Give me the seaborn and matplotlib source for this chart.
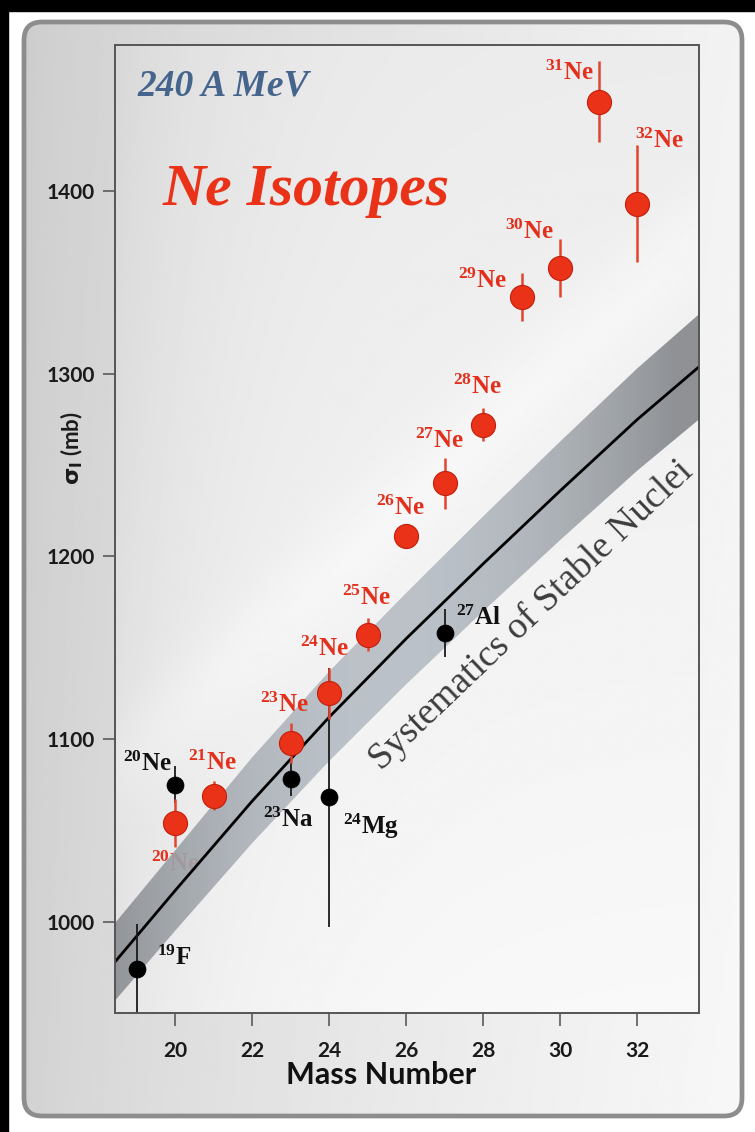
import numpy as np
import matplotlib
matplotlib.use("Agg")
import matplotlib.pyplot as plt
import seaborn as sns
from matplotlib.patches import FancyBboxPatch, Rectangle
from matplotlib.colors import to_rgb

# Interaction cross sections of Ne isotopes on carbon at 240 A MeV
ne_mass = [20, 21, 23, 24, 25, 26, 27, 28, 29, 30, 31, 32]
ne_sigma = [1054, 1069, 1098, 1125, 1157, 1211, 1240, 1272, 1342, 1358, 1449, 1393]
ne_err = [13, 8, 11, 14, 9, 5, 14, 9, 13, 16, 22, 32]

# Stable nuclei used for the reference systematics
stable_mass = [19, 20, 23, 24, 27]
stable_sigma = [974, 1075, 1078, 1068, 1158]
stable_err = [25, 10, 9, 71, 13]
stable_symbol = ["F", "Ne", "Na", "Mg", "Al"]

# Systematics of stable nuclei: central curve and its uncertainty band
sys_mass = [18, 20, 22, 24, 26, 28, 30, 32, 34]
sys_sigma = [967, 1017, 1066, 1112, 1155, 1196, 1236, 1275, 1311]
sys_upper = [988, 1039, 1090, 1137, 1180, 1222, 1263, 1303, 1340]
sys_lower = [946, 995, 1043, 1088, 1130, 1170, 1209, 1247, 1282]

x_ticks = [20, 22, 24, 26, 28, 30, 32]
y_ticks = [1000, 1100, 1200, 1300, 1400]

# label offsets (pixels) from each marker
ne_label_offset = [(0, -41), (-1.5, 33), (-6.5, 38), (-5, 45), (-1.5, 37), (-6, 28),
                   (-5.5, 42), (-6, 38), (-39.5, 16), (-31, 36), (-29.5, 29), (22, 63)]
stable_label_offset = [(37.5, 11), (-28, 21), (-2.5, -41), (42, -29), (33.5, 15)]

RED = "#ea3219"
RED_TXT = "#e3301d"
BLUE = "#45658d"

sns.set_theme(style="ticks")
plt.rcParams["font.family"] = ["Lato", "DejaVu Sans"]
plt.rcParams["mathtext.fontset"] = "custom"
plt.rcParams["mathtext.rm"] = "Liberation Serif:bold"
plt.rcParams["mathtext.it"] = "Liberation Serif:italic:bold"
plt.rcParams["mathtext.bf"] = "Liberation Serif:bold"
plt.rcParams["mathtext.sf"] = "DejaVu Sans:bold"

W, H = 755, 1132
fig = plt.figure(figsize=(W / 100, H / 100), dpi=100, facecolor="white")

# ---- framed panel behind the plot ----
bg = fig.add_axes([0, 0, 1, 1], zorder=-5)
bg.set_xlim(0, W)
bg.set_ylim(H, 0)
bg.axis("off")
bg.add_patch(Rectangle((0, 0), 8, H, color="black", zorder=0))
bg.add_patch(Rectangle((0, 0), W, 11, color="black", zorder=0))
panel = FancyBboxPatch((24, 22), 718, 1094, boxstyle="round,pad=0,rounding_size=18",
                       fc="none", ec="#8d8d8d", lw=3.4, zorder=3)
bg.add_patch(panel)
uu, vv = np.meshgrid(np.linspace(0, 1, 300), np.linspace(0, 1, 300))
panel_shade = 0.82 + 0.15 * uu ** 0.7 - 0.02 * (1 - vv)
pimg = bg.imshow(panel_shade, extent=(24, 742, 1116, 22), origin="upper", cmap="gray",
                 vmin=0, vmax=1, aspect="auto", zorder=1, interpolation="bilinear")
pimg.set_clip_path(panel)

# ---- main axes ----
ax = fig.add_axes([115 / W, 1 - 1013 / H, 584 / W, 968 / H])
ax.set_facecolor("none")
x0, x1, y0, y1 = 18.44, 33.6, 950, 1480

# soft gradient backdrop inside the frame
u, v = np.meshgrid(np.linspace(0, 1, 400), np.linspace(0, 1, 400))
shade = (0.975 - 0.05 * v - 0.08 * np.exp(-u / 0.2)
         + 0.025 * np.exp(-((v - 0.25 - 0.55 * u) / 0.06) ** 2))
ax.imshow(shade, extent=(x0, x1, y0, y1), origin="lower", cmap="gray", vmin=0, vmax=1,
          aspect="auto", zorder=0, interpolation="bilinear")

# uncertainty band with tone changing along its length
band = ax.fill_between(sys_mass, sys_lower, sys_upper, facecolor="none",
                       edgecolor="none", zorder=1)
mx = np.linspace(18, 34, 400)
t = np.clip(((mx - 25.5) / 7.5) ** 2, 0, 1)
light = np.array(to_rgb("#b7bec5"))
dark = np.array(to_rgb("#86898d"))
cols = light[None, :] * (1 - t[:, None]) + dark[None, :] * t[:, None]
band_rgb = np.repeat(cols[None, :, :], 2, axis=0)
bimg = ax.imshow(band_rgb, extent=(18, 34, 900, 1400), origin="lower", aspect="auto",
                 zorder=1.5, interpolation="bilinear", alpha=0.92)
bimg.set_clip_path(band.get_paths()[0], transform=ax.transData)

sns.lineplot(x=sys_mass, y=sys_sigma, ax=ax, color="black", lw=2.0, zorder=3)

# error bars and markers
ax.errorbar(stable_mass, stable_sigma, yerr=stable_err, fmt="none", ecolor="#1a1a1a",
            elinewidth=1.3, capsize=0, zorder=4)
ax.errorbar(ne_mass, ne_sigma, yerr=ne_err, fmt="none", ecolor="#e2452f",
            elinewidth=1.8, capsize=0, zorder=5)
sns.scatterplot(x=stable_mass, y=stable_sigma, ax=ax, s=150, color="black",
                edgecolor="black", linewidth=0.5, zorder=6)
sns.scatterplot(x=ne_mass, y=ne_sigma, ax=ax, s=300, color=RED,
                edgecolor="#c21e0a", linewidth=0.8, zorder=7)

# isotope labels
for m, s, off in zip(ne_mass, ne_sigma, ne_label_offset):
    z = 1.2 if m == 20 else 8
    ax.annotate(f"$^{{{m}}}$Ne", (m, s), xytext=off, textcoords="offset pixels",
                ha="center", va="center", fontsize=18, fontfamily="Liberation Serif",
                fontweight="bold", color=RED_TXT, zorder=z)
for m, s, sym, off in zip(stable_mass, stable_sigma, stable_symbol, stable_label_offset):
    ax.annotate(f"$^{{{m}}}$" + sym, (m, s), xytext=off, textcoords="offset pixels",
                ha="center", va="center", fontsize=18, fontfamily="Liberation Serif",
                fontweight="bold", color="#111111", zorder=8)

# titles inside the frame
ax.text(0.039, 0.948, "240 A MeV", transform=ax.transAxes, fontsize=27,
        fontfamily="Liberation Serif", fontstyle="italic", fontweight="bold",
        color=BLUE, ha="left", va="baseline", zorder=8)
ax.text(0.082, 0.835, "Ne Isotopes", transform=ax.transAxes, fontsize=43,
        fontfamily="Liberation Serif", fontstyle="italic", fontweight="bold",
        color=RED, ha="left", va="baseline", zorder=8)
ax.text(29.25, 1168, "Systematics of Stable Nuclei", fontsize=27,
        fontfamily="Liberation Serif", color="#3c3c3c", rotation=43.6,
        rotation_mode="anchor", ha="center", va="center", zorder=8)

# axes styling
ax.set_xlim(x0, x1)
ax.set_ylim(y0, y1)
ax.set_xticks(x_ticks)
ax.set_yticks(y_ticks)
ax.tick_params(axis="both", direction="out", length=9, width=1.2, color="#5a5a5a",
               labelsize=15, labelcolor="#1a1a1a")
ax.tick_params(axis="x", pad=11)
ax.tick_params(axis="y", pad=5.5)
for lbl in ax.get_xticklabels() + ax.get_yticklabels():
    lbl.set_fontweight("bold")
for sp in ax.spines.values():
    sp.set_color("#555555")
    sp.set_linewidth(1.4)
    sp.set_zorder(9)

ax.set_ylabel(r"$\mathsf{\sigma}_{\mathsf{I}}$ (mb)", fontsize=16, fontweight="bold",
              color="#1a1a1a")
ax.yaxis.set_label_coords(-0.052, 0.584)
ax.set_xlabel("Mass Number", fontsize=22, fontweight="bold", color="#111111")
ax.xaxis.set_label_coords(0.455, -0.05)

fig.savefig("out.png", dpi=100, facecolor=fig.get_facecolor())
